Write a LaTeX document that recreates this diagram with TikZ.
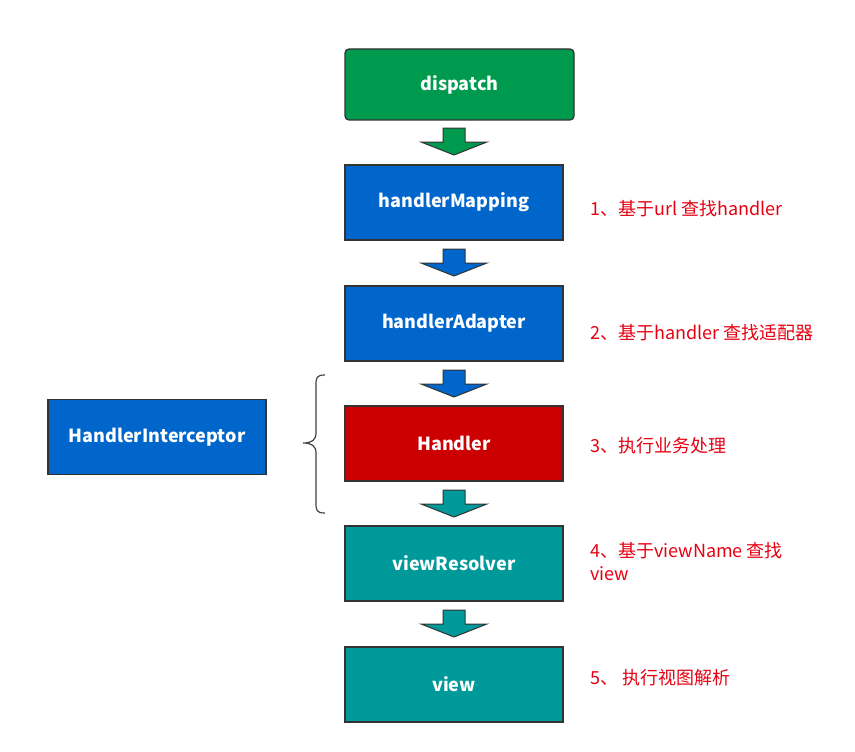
\documentclass[tikz,border=0pt]{standalone}
\usepackage{fontspec}
\setmainfont{Noto Sans CJK SC}
\newfontfamily\cjk{Noto Sans CJK SC}
\begin{document}
\begin{tikzpicture}[x=1pt,y=-1pt,
  stepbox/.style={draw=black!80,line width=1.3pt,minimum width=218pt,minimum height=75pt,inner sep=0pt,
    text=white,font=\cjk\bfseries\fontsize{18}{21}\selectfont},
  note/.style={anchor=west,text={rgb,255:red,230;green,0;blue,18},font=\cjk\fontsize{18}{23}\selectfont,align=left,inner sep=0pt},
  blockarrow/.pic={
    \path[fill=#1,draw=black!80,line width=1pt]
      (-11,0) -- (11,0) -- (11,14) -- (33,14) -- (0,27) -- (-33,14) -- (-11,14) -- cycle;
  }]
\definecolor{cgreen}{RGB}{0,154,78}
\definecolor{cblue}{RGB}{0,102,204}
\definecolor{cred}{RGB}{204,0,0}
\definecolor{cteal}{RGB}{0,153,153}
\useasboundingbox (0,0) rectangle (855,752);

\node[stepbox,fill=cgreen,rounded corners=4pt,minimum width=229pt,minimum height=71pt] (dispatch) at (459.5,84.5) {dispatch};
\node[stepbox,fill=cblue] (mapping) at (454,202.5) {handlerMapping};
\node[stepbox,fill=cblue] (adapter) at (454,323.5) {handlerAdapter};
\node[stepbox,fill=cred] (handler) at (454,443.5) {Handler};
\node[stepbox,fill=cteal] (resolver) at (454,563.5) {viewResolver};
\node[stepbox,fill=cteal] (view) at (454,684.5) {view};
\node[stepbox,fill=cblue] (interceptor) at (157,437) {HandlerInterceptor};

\pic at (454,128) {blockarrow=cgreen};
\pic at (454,249) {blockarrow=cblue};
\pic at (454,370) {blockarrow=cblue};
\pic at (454,490) {blockarrow=cteal};
\pic at (454,610) {blockarrow=cteal};

\draw[black!75,line width=1.2pt] (325,375) .. controls (316,375) and (316,378) .. (316,386)
  -- (316,433) .. controls (316,440) and (312,443) .. (303,443)
  .. controls (312,443) and (316,446) .. (316,453)
  -- (316,502) .. controls (316,510) and (316,513) .. (325,513);
\coordinate (bracetip) at (303,443);

\node[note] (n1) at (590,209) {1、基于url 查找handler};
\node[note] (n2) at (590,333) {2、基于handler 查找适配器};
\node[note] (n3) at (590,446) {3、执行业务处理};
\node[note] (n4) at (590,561.5) {4、基于viewName 查找\\view};
\node[note] (n5) at (590,678) {5、 执行视图解析};
\end{tikzpicture}
\end{document}
